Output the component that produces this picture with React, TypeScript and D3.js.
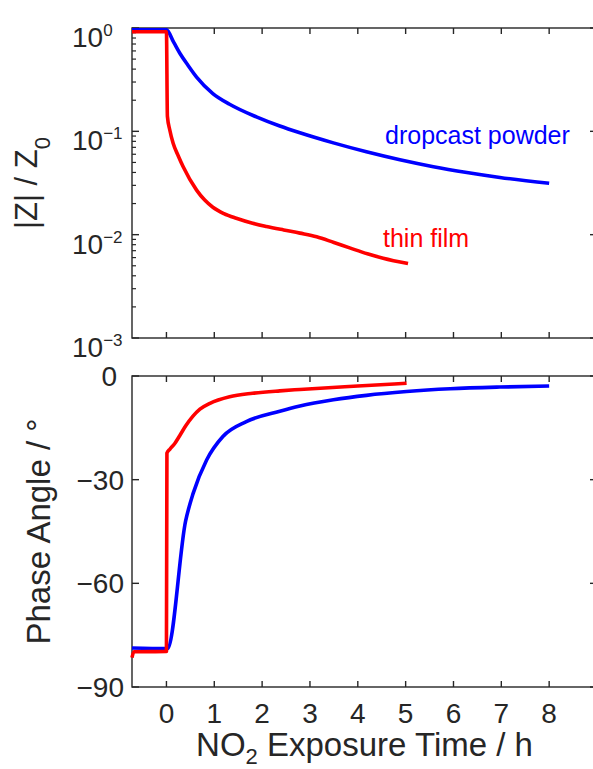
import React from "react"
import * as d3 from "d3"

// time axis (h) and values
const powderTimeZ = [-0.72, 0, 0.15, 0.28, 0.45, 0.63, 0.97, 1.32, 1.88, 2.37, 2.79, 3.49, 4.18, 4.88, 5.58, 6.28, 6.97, 8.0]
const powderZ = [0.96, 0.96, 0.73, 0.57, 0.436, 0.335, 0.232, 0.183, 0.138, 0.1125, 0.0968, 0.0773, 0.0634, 0.0531, 0.0455, 0.04, 0.0358, 0.0314]

const filmTimeZ = [-0.72, 0, 0.02, 0.07, 0.14, 0.25, 0.35, 0.63, 0.8, 0.97, 1.2, 1.46, 1.8, 2.09, 2.45, 2.79, 3.14, 3.5, 3.83, 4.2, 4.53, 5.05]
const filmZ = [0.92, 0.92, 0.14, 0.103, 0.0765, 0.0575, 0.0454, 0.027, 0.0216, 0.0184, 0.016, 0.0144, 0.0129, 0.012, 0.0111, 0.01035, 0.00955, 0.0084, 0.00745, 0.00653, 0.00592, 0.00525]

const powderTimePhase = [-0.72, 0, 0.03, 0.4, 0.56, 0.84, 1.18, 1.67, 2.37, 2.79, 3.49, 4.18, 5.02, 5.93, 6.97, 8.0]
const powderPhase = [-78.7, -78.9, -78.8, -42, -33.9, -24.3, -17.5, -13.2, -10.2, -8.7, -6.9, -5.6, -4.5, -3.7, -3.2, -2.9]

const filmTimePhase = [-0.72, -0.68, 0, 0.01, 0.07, 0.17, 0.28, 0.4, 0.55, 0.7, 0.91, 1.32, 1.8, 2.37, 2.79, 4.0, 5.02]
const filmPhase = [-81.5, -79.8, -79.7, -22.3, -21.2, -19.6, -17.2, -14.5, -11.7, -9.6, -7.9, -6.0, -5.0, -4.3, -3.9, -2.9, -2.1]

const xTicks = [0, 1, 2, 3, 4, 5, 6, 7, 8]
const zTicks = [1e-3, 1e-2, 1e-1, 1]
const zTickLabels = ["−3", "−2", "−1", "0"]
const phaseTicks = [-90, -60, -30, 0]
const phaseTickLabels = ["−90", "−60", "−30", "0"]

const font = "'Liberation Sans', Arial, sans-serif"
const ink = "#262626"

const left = 132
const right = 597
const top1 = 28
const bottom1 = 338
const top2 = 376
const bottom2 = 687

const App = () => {
	const x = d3.scaleLinear().domain([-0.72, 9]).range([left, right])
	const yZ = d3.scaleLog().domain([1e-3, 1]).range([bottom1, top1])
	const yP = d3.scaleLinear().domain([-90, 0]).range([bottom2, top2])

	const zip = (t: number[], v: number[]) => t.map((d, i) => [d, v[i]] as [number, number])

	const lineZ = d3
		.line<[number, number]>()
		.x(d => x(d[0]))
		.y(d => yZ(d[1]))
		.curve(d3.curveMonotoneX)
	const lineP = d3
		.line<[number, number]>()
		.x(d => x(d[0]))
		.y(d => yP(d[1]))
		.curve(d3.curveMonotoneX)

	// minor log ticks
	const minorZ: number[] = []
	for (let e = -3; e < 0; e++) {
		for (let k = 2; k <= 9; k++) minorZ.push(k * Math.pow(10, e))
	}

	const frame = (t: number, b: number) => (
		<rect x={left} y={t} width={right - left} height={b - t} fill="none" stroke={ink} strokeWidth={1.4} />
	)

	const xTickMarks = (t: number, b: number) =>
		xTicks.map(d => (
			<g key={"xt" + t + d}>
				<line x1={x(d)} x2={x(d)} y1={t} y2={t + 6} stroke={ink} strokeWidth={1.4} />
				<line x1={x(d)} x2={x(d)} y1={b} y2={b - 6} stroke={ink} strokeWidth={1.4} />
			</g>
		))

	return (
		<svg width={593} height={769} style={{ position: "absolute", left: 0, top: 0, background: "#fff" }} fontFamily={font}>
			{/* top panel */}
			{frame(top1, bottom1)}
			{xTickMarks(top1, bottom1)}
			{zTicks.map((d, i) => (
				<g key={"zt" + i}>
					<line x1={left} x2={left + 7} y1={yZ(d)} y2={yZ(d)} stroke={ink} strokeWidth={1.4} />
					<line x1={right} x2={right - 7} y1={yZ(d)} y2={yZ(d)} stroke={ink} strokeWidth={1.4} />
					<text x={72} y={yZ(d) + 19} fill={ink} fontSize={28}>
						10
						<tspan dy={-11} fontSize={17}>
							{zTickLabels[i]}
						</tspan>
					</text>
				</g>
			))}
			{minorZ.map((d, i) => (
				<g key={"zm" + i}>
					<line x1={left} x2={left + 4} y1={yZ(d)} y2={yZ(d)} stroke={ink} strokeWidth={1.2} />
					<line x1={right} x2={right - 4} y1={yZ(d)} y2={yZ(d)} stroke={ink} strokeWidth={1.2} />
				</g>
			))}
			<path d={lineZ(zip(powderTimeZ, powderZ)) || ""} fill="none" stroke="#0000ff" strokeWidth={3.6} strokeLinejoin="round" />
			<path d={lineZ(zip(filmTimeZ, filmZ)) || ""} fill="none" stroke="#ff0000" strokeWidth={3.6} strokeLinejoin="round" />
			<text x={385} y={144} fill="#0000ff" fontSize={25}>
				dropcast powder
			</text>
			<text x={383} y={247} fill="#ff0000" fontSize={25}>
				thin film
			</text>
			<text transform={`translate(37, ${(top1 + bottom1) / 2}) rotate(-90)`} textAnchor="middle" fill={ink} fontSize={31}>
				|Z| / Z
				<tspan dy={13} fontSize={22}>
					0
				</tspan>
			</text>

			{/* bottom panel */}
			{frame(top2, bottom2)}
			{xTickMarks(top2, bottom2)}
			{phaseTicks.map((d, i) => (
				<g key={"pt" + i}>
					<line x1={left} x2={left + 7} y1={yP(d)} y2={yP(d)} stroke={ink} strokeWidth={1.4} />
					<line x1={right} x2={right - 7} y1={yP(d)} y2={yP(d)} stroke={ink} strokeWidth={1.4} />
					<text x={d === 0 ? 117 : 124} y={yP(d) + 10} textAnchor="end" fill={ink} fontSize={28}>
						{phaseTickLabels[i]}
					</text>
				</g>
			))}
			<path d={lineP(zip(powderTimePhase, powderPhase)) || ""} fill="none" stroke="#0000ff" strokeWidth={3.6} strokeLinejoin="round" />
			<path d={lineP(zip(filmTimePhase, filmPhase)) || ""} fill="none" stroke="#ff0000" strokeWidth={3.6} strokeLinejoin="round" />
			{xTicks.map(d => (
				<text key={"xl" + d} x={x(d)} y={722.5} textAnchor="middle" fill={ink} fontSize={28}>
					{d}
				</text>
			))}
			<text x={(left + right) / 2} y={756} textAnchor="middle" fill={ink} fontSize={33}>
				NO
				<tspan dy={8} fontSize={22}>
					2
				</tspan>
				<tspan dy={-8}> Exposure Time / h</tspan>
			</text>
			<text transform={`translate(50, ${(top2 + bottom2) / 2}) rotate(-90)`} textAnchor="middle" fill={ink} fontSize={33}>
				Phase Angle / °
			</text>
		</svg>
	)
}

export default App
